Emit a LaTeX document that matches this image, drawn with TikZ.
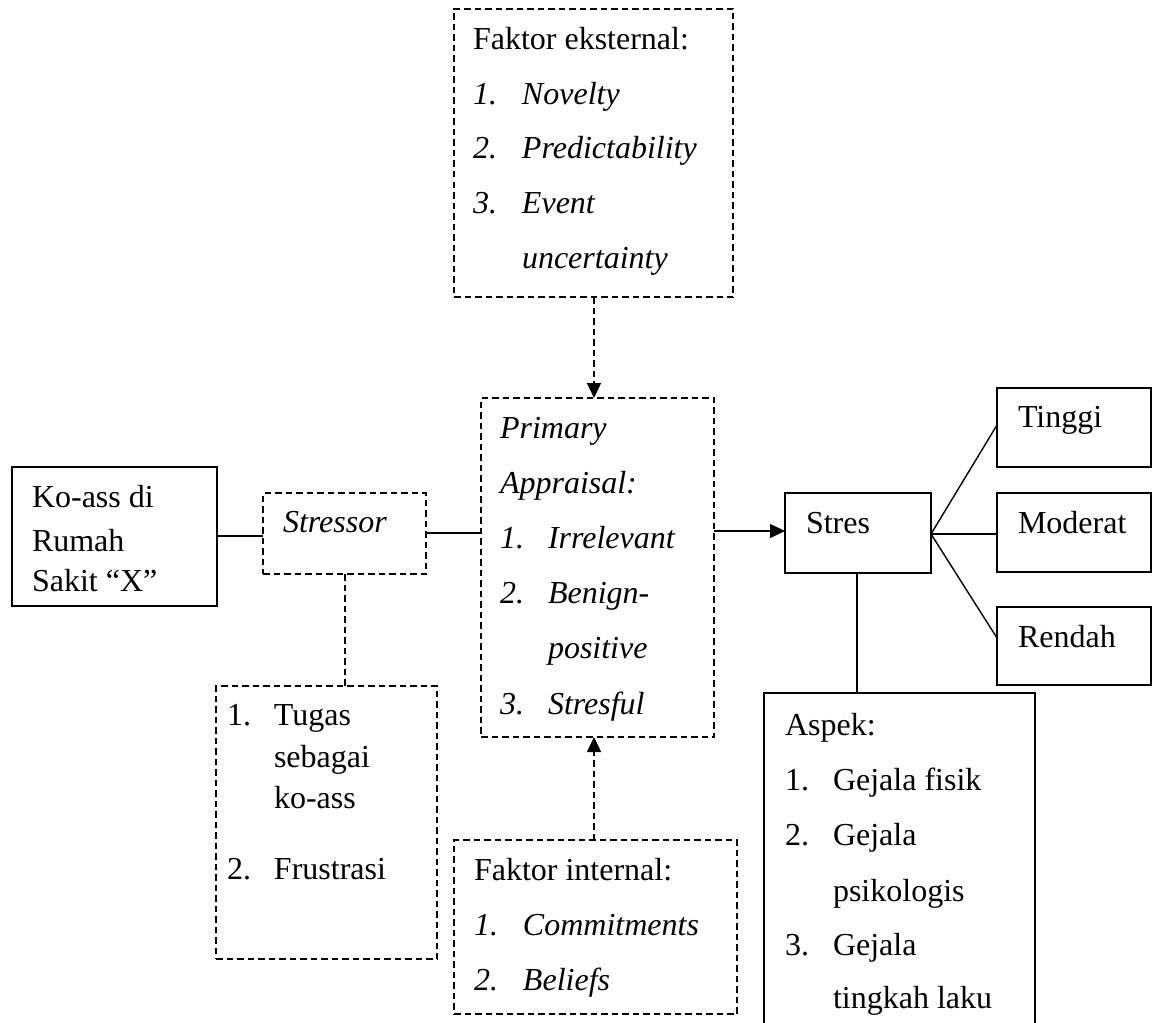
\documentclass[tikz,border=0pt]{standalone}
\usepackage{fontspec}
\setmainfont{Liberation Serif}
\usetikzlibrary{arrows.meta}
\newcommand\diagfont{\fontsize{32pt}{38pt}\selectfont}
\newcommand\numitem[3]{\makebox[#1][l]{#2}#3}
\begin{document}
\begin{tikzpicture}[x=1pt,y=-1pt,
  txt/.style={inner sep=0pt, outer sep=0pt, anchor=base west, font=\diagfont},
  sbox/.style={draw, line width=1.8pt, inner sep=0pt, outer sep=0pt, anchor=north west},
  dbox/.style={draw, line width=1.4pt, dash pattern=on 6.5pt off 4pt, inner sep=0pt, outer sep=0pt, anchor=north west},
  conn/.style={line width=1.4pt},
  dconn/.style={line width=1.4pt, dash pattern=on 6.5pt off 4pt},
  tip/.style={-{Triangle[length=15pt,width=14pt]}}
]
\useasboundingbox (0,0) rectangle (1153,1022);
\clip (0,0) rectangle (1153,1022);
\fill[white] (0,0) rectangle (1153,1022);

% boxes
\node[dbox, minimum width=279pt, minimum height=288pt] (ext) at (454,9) {};
\node[sbox, minimum width=205pt, minimum height=139pt] (koass) at (12,467) {};
\node[dbox, minimum width=163pt, minimum height=81pt] (stressor) at (263,493) {};
\node[dbox, minimum width=233pt, minimum height=339pt] (primary) at (481,398) {};
\node[sbox, minimum width=146pt, minimum height=80pt] (stres) at (785,493) {};
\node[sbox, minimum width=154pt, minimum height=79pt] (tinggi) at (997,388) {};
\node[sbox, minimum width=154pt, minimum height=79pt] (moderat) at (997,493) {};
\node[sbox, minimum width=154pt, minimum height=78pt] (rendah) at (997,607) {};
\node[dbox, minimum width=221pt, minimum height=273pt] (tugas) at (216,686) {};
\node[dbox, minimum width=283pt, minimum height=174pt] (internal) at (454,840) {};
\node[sbox, minimum width=271pt, minimum height=360pt] (aspek) at (764,693) {};

% connectors
\draw[conn] (koass.east |- 0,536) -- (stressor.west |- 0,536);
\draw[conn] (stressor.east |- 0,533) -- (primary.west |- 0,533);
\draw[dconn, tip] (ext.south -| 594,0) -- (primary.north -| 594,0);
\draw[dconn] (stressor.south -| 345,0) -- (tugas.north -| 345,0);
\draw[dconn, tip] (internal.north -| 594,0) -- (primary.south -| 594,0);
\draw[conn, tip] (primary.east |- 0,531) -- (stres.west |- 0,531);
\coordinate (sr) at (stres.east |- 0,534);
\draw[conn] (sr) -- (tinggi.west |- 0,425);
\draw[conn] (sr) -- (moderat.west |- 0,534);
\draw[conn] (sr) -- (rendah.west |- 0,638);
\draw[conn] (stres.south -| 857,0) -- (aspek.north -| 857,0);

% texts: external
\node[txt] (e0) at (473,50) {Faktor eksternal:};
\node[txt] (e1) at (473,105) {\numitem{49pt}{\itshape 1.}{\itshape Novelty}};
\node[txt] (e2) at (473,158) {\numitem{49pt}{\itshape 2.}{\itshape Predictability}};
\node[txt] (e3) at (473,213) {\numitem{49pt}{\itshape 3.}{\itshape Event}};
\node[txt] (e4) at (522,268) {\itshape uncertainty};

% ko-ass
\node[txt] (k1) at (32,507) {Ko-ass di};
\node[txt] (k2) at (32,551) {Rumah};
\node[txt] (k3) at (32,591) {Sakit “X”};

% stressor
\node[txt] (s1) at (283,532) {\itshape Stressor};

% primary
\node[txt] (p1) at (500,438) {\itshape Primary};
\node[txt] (p2) at (500,493) {\itshape Appraisal:};
\node[txt] (p3) at (500,548) {\numitem{48pt}{\itshape 1.}{\itshape Irrelevant}};
\node[txt] (p4) at (500,603) {\numitem{48pt}{\itshape 2.}{\itshape Benign-}};
\node[txt] (p5) at (548,658) {\itshape positive};
\node[txt] (p6) at (500,714) {\numitem{48pt}{\itshape 3.}{\itshape Stresful}};

% stres and levels
\node[txt] (st) at (806,533) {Stres};
\node[txt] (t1) at (1018,427) {Tinggi};
\node[txt] (m1) at (1018,533) {Moderat};
\node[txt] (r1) at (1018,647) {Rendah};

% tugas
\node[txt] (g1) at (227,725) {\numitem{47pt}{1.}{Tugas}};
\node[txt] (g2) at (274,767) {sebagai};
\node[txt] (g3) at (274,808) {ko-ass};
\node[txt] (g4) at (227,879) {\numitem{47pt}{2.}{Frustrasi}};

% internal
\node[txt] (i0) at (474,880) {Faktor internal:};
\node[txt] (i1) at (474,935) {\numitem{49pt}{\itshape 1.}{\itshape Commitments}};
\node[txt] (i2) at (474,990) {\numitem{49pt}{\itshape 2.}{\itshape Beliefs}};

% aspek
\node[txt] (a0) at (785,735) {Aspek:};
\node[txt] (a1) at (785,790) {\numitem{48pt}{1.}{Gejala fisik}};
\node[txt] (a2) at (785,845) {\numitem{48pt}{2.}{Gejala}};
\node[txt] (a3) at (833,901) {psikologis};
\node[txt] (a4) at (785,955) {\numitem{48pt}{3.}{Gejala}};
\node[txt] (a5) at (833,1008) {tingkah laku};
\end{tikzpicture}
\end{document}
